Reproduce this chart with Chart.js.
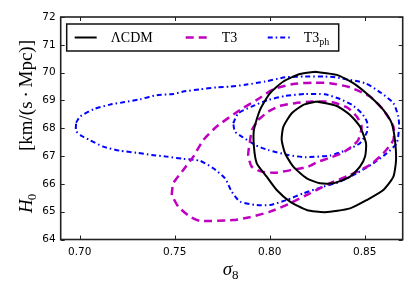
<!DOCTYPE html>
<html>
<head>
<meta charset="utf-8">
<script src="https://cdn.jsdelivr.net/npm/chart.js@4/dist/chart.umd.min.js"></script>
<style>
  html, body { margin: 0; padding: 0; background: #fff; }
  canvas { display: block; }
</style>
</head>
<body>
<canvas id="myChart" width="415" height="291"></canvas>
<script>
// axis ticks
const sigma8Ticks = [0.70, 0.75, 0.80, 0.85];
const h0Ticks = [64, 65, 66, 67, 68, 69, 70, 71, 72];

// legend names (main text + subscript)
const modelNames = ['ΛCDM', 'T3', 'T3'];
const modelSubs = ['', '', 'ph'];

// contour points [sigma8, H0]
const lcdm1 = [[0.8247,68.96],[0.8353,68.80],[0.8423,68.48],[0.8475,68.06],[0.8507,67.46],[0.8502,66.98],
  [0.8475,66.62],[0.8423,66.26],[0.8335,66.02],[0.8265,66.02],[0.8195,66.20],[0.8124,66.62],[0.8081,67.10],
  [0.8063,67.58],[0.8072,68.06],[0.8116,68.54],[0.8177,68.84]];
const lcdm2 = [[0.8238,70.03],[0.8353,69.92],[0.8440,69.62],[0.8528,69.14],[0.8598,68.66],[0.8642,68.18],
  [0.8659,67.58],[0.8665,66.86],[0.8651,66.26],[0.8598,65.78],[0.8511,65.42],[0.8423,65.12],[0.8291,64.98],
  [0.8195,65.06],[0.8107,65.36],[0.8037,65.78],[0.7984,66.26],[0.7932,66.74],[0.7917,67.34],[0.7917,67.94],
  [0.7949,68.66],[0.8002,69.26],[0.8072,69.68],[0.8159,69.95]];
const t3One = [[0.7940,68.30],[0.7993,68.60],[0.8054,68.80],[0.8133,68.90],[0.8221,68.96],[0.8291,68.96],
  [0.8344,68.91],[0.8412,68.73],[0.8458,68.42],[0.8484,68.06],[0.8466,67.58],[0.8432,67.34],[0.8379,67.10],
  [0.8308,66.92],[0.8256,66.80],[0.8203,66.62],[0.8116,66.50],[0.8028,66.40],[0.7958,66.44],[0.7905,66.62],
  [0.7887,67.04],[0.7896,67.52],[0.7907,67.94]];
const t3Two = [[0.7484,65.60],[0.7493,66.02],[0.7545,66.50],[0.7598,66.98],[0.7651,67.58],[0.7721,68.06],
  [0.7844,68.66],[0.7932,69.02],[0.8019,69.40],[0.8124,69.59],[0.8229,69.64],[0.8317,69.62],[0.8423,69.47],
  [0.8528,69.14],[0.8598,68.66],[0.8651,68.06],[0.8651,67.58],[0.8598,67.10],[0.8528,66.68],[0.8423,66.32],
  [0.8317,66.02],[0.8212,65.66],[0.8107,65.30],[0.8002,65.00],[0.7896,64.80],[0.7808,64.70],[0.7633,64.67],
  [0.7581,64.82],[0.7519,65.18]];
const t3ph1 = [[0.7808,68.18],[0.7835,68.54],[0.7905,68.78],[0.7993,69.02],[0.8081,69.16],[0.8186,69.23],
  [0.8291,69.22],[0.8370,69.05],[0.8433,68.84],[0.8484,68.54],[0.8512,68.23],[0.8512,67.87],[0.8475,67.46],
  [0.8405,67.22],[0.8317,67.02],[0.8186,66.96],[0.8096,67.04],[0.7991,67.22],[0.7923,67.40],[0.7853,67.70],
  [0.7817,67.88]];
const t3ph2 = [[0.6981,68.20],[0.7002,68.42],[0.7072,68.68],[0.7159,68.85],[0.7238,68.94],[0.7317,69.04],
  [0.7405,69.19],[0.7493,69.23],[0.7545,69.32],[0.7633,69.40],[0.7721,69.47],[0.7791,69.50],[0.7870,69.56],
  [0.7975,69.68],[0.8081,69.83],[0.8186,69.86],[0.8291,69.86],[0.8344,69.83],[0.8502,69.62],[0.8589,69.26],
  [0.8651,68.90],[0.8677,68.42],[0.8681,68.01],[0.8668,67.46],[0.8616,67.10],[0.8545,66.74],[0.8458,66.38],
  [0.8370,66.08],[0.8282,65.90],[0.8177,65.66],[0.8089,65.42],[0.8002,65.24],[0.7932,65.24],[0.7844,65.36],
  [0.7800,65.72],[0.7765,66.20],[0.7703,66.56],[0.7633,66.83],[0.7545,66.90],[0.7458,66.98],[0.7379,67.04],
  [0.7300,67.12],[0.7212,67.19],[0.7124,67.34],[0.7051,67.58],[0.7011,67.72],[0.6981,67.90]];

const colors = ['#000000', '#bf00bf', '#0000ff'];
const dashes = [[], [8, 5], [5, 3, 1.5, 3]];
const widths = [2, 2.5, 2];

const toXY = pts => pts.concat([pts[0]]).map(p => ({ x: p[0], y: p[1] }));

const contour = (pts, m) => ({
  label: modelNames[m] + modelSubs[m],
  data: toXY(pts),
  showLine: true,
  pointRadius: 0,
  fill: false,
  borderColor: colors[m],
  borderDash: dashes[m],
  borderWidth: widths[m],
  tension: 0.2
});

// inward ticks, frame and legend like the original matplotlib figure
const framePlugin = {
  id: 'frame',
  afterDraw(chart) {
    const { ctx, chartArea: ca, scales } = chart;
    ctx.save();
    ctx.strokeStyle = '#222';
    ctx.lineWidth = 1;
    sigma8Ticks.forEach(v => {
      const px = Math.round(scales.x.getPixelForValue(v)) + 0.5;
      ctx.beginPath();
      ctx.moveTo(px, ca.bottom); ctx.lineTo(px, ca.bottom - 4);
      ctx.moveTo(px, ca.top); ctx.lineTo(px, ca.top + 4);
      ctx.stroke();
    });
    h0Ticks.forEach(v => {
      const py = Math.round(scales.y.getPixelForValue(v)) + 0.5;
      ctx.beginPath();
      ctx.moveTo(ca.left, py); ctx.lineTo(ca.left + 4, py);
      ctx.moveTo(ca.right, py); ctx.lineTo(ca.right - 4, py);
      ctx.stroke();
    });
    ctx.lineWidth = 1.6;
    ctx.strokeRect(ca.left, ca.top, ca.right - ca.left, ca.bottom - ca.top);

    // legend
    const bx = ca.left + 6, by = ca.top + 7, bw = 272, bh = 27;
    ctx.fillStyle = '#fff';
    ctx.fillRect(bx, by, bw, bh);
    ctx.strokeStyle = '#111';
    ctx.lineWidth = 1.5;
    ctx.strokeRect(bx, by, bw, bh);
    const entryX = [8, 119, 201];
    const ly = by + bh / 2;
    modelNames.forEach((name, i) => {
      const sx = bx + entryX[i];
      ctx.beginPath();
      ctx.strokeStyle = colors[i];
      ctx.lineWidth = widths[i];
      ctx.setLineDash(dashes[i]);
      ctx.moveTo(sx, ly); ctx.lineTo(sx + 22, ly);
      ctx.stroke();
      ctx.setLineDash([]);
      ctx.fillStyle = '#000';
      ctx.font = '14px "Liberation Serif"';
      ctx.textBaseline = 'alphabetic';
      ctx.fillText(name, sx + 36, ly + 4.5);
      if (modelSubs[i]) {
        const w = ctx.measureText(name).width;
        ctx.font = '10px "Liberation Serif"';
        ctx.fillText(modelSubs[i], sx + 36 + w, ly + 7.5);
      }
    });

    // x axis title: sigma_8
    ctx.fillStyle = '#000';
    ctx.font = 'italic 19px "Liberation Serif"';
    const sx0 = (ca.left + ca.right) / 2 - 9;
    ctx.fillText('σ', sx0, 275);
    const sw = ctx.measureText('σ').width;
    ctx.font = '13px "Liberation Serif"';
    ctx.fillText('8', sx0 + sw, 279);

    // y axis title: H_0 [km/(s·Mpc)]
    ctx.save();
    ctx.translate(31.5, 213);
    ctx.rotate(-Math.PI / 2);
    ctx.font = 'italic 19px "Liberation Serif"';
    ctx.fillText('H', 0, 0);
    const hw = ctx.measureText('H').width;
    ctx.font = '13px "Liberation Serif"';
    ctx.fillText('0', hw - 1, 4);
    ctx.font = '19px "Liberation Serif"';
    ctx.textAlign = 'right';
    ctx.fillText('[km/(s\u2009·\u2009Mpc)]', 173, 0);
    ctx.restore();

    ctx.restore();
  }
};

const ctx = document.getElementById('myChart').getContext('2d');
new Chart(ctx, {
  type: 'scatter',
  data: {
    datasets: [
      contour(lcdm1, 0), contour(lcdm2, 0),
      contour(t3One, 1), contour(t3Two, 1),
      contour(t3ph1, 2), contour(t3ph2, 2)
    ]
  },
  options: {
    responsive: false,
    animation: false,
    devicePixelRatio: 1,
    layout: { padding: { left: 38.7, right: 12.3, top: 17, bottom: 29.5 } },
    plugins: { legend: { display: false }, tooltip: { enabled: false } },
    scales: {
      x: {
        type: 'linear',
        min: 0.69,
        max: 0.87,
        afterBuildTicks: s => { s.ticks = sigma8Ticks.map(v => ({ value: v })); },
        afterFit: s => { s.height = 22; },
        grid: { display: false, drawTicks: false },
        border: { display: false },
        ticks: {
          padding: 6,
          color: '#000',
          font: { family: '"DejaVu Sans"', size: 10.5 },
          callback: v => v.toFixed(2)
        }
      },
      y: {
        type: 'linear',
        min: 64,
        max: 72,
        afterBuildTicks: s => { s.ticks = h0Ticks.map(v => ({ value: v })); },
        afterFit: s => { s.width = 22; },
        grid: { display: false, drawTicks: false },
        border: { display: false },
        ticks: {
          padding: 5,
          color: '#000',
          font: { family: '"DejaVu Sans"', size: 10.5 },
          callback: v => String(v)
        }
      }
    }
  },
  plugins: [framePlugin]
});
</script>
</body>
</html>
